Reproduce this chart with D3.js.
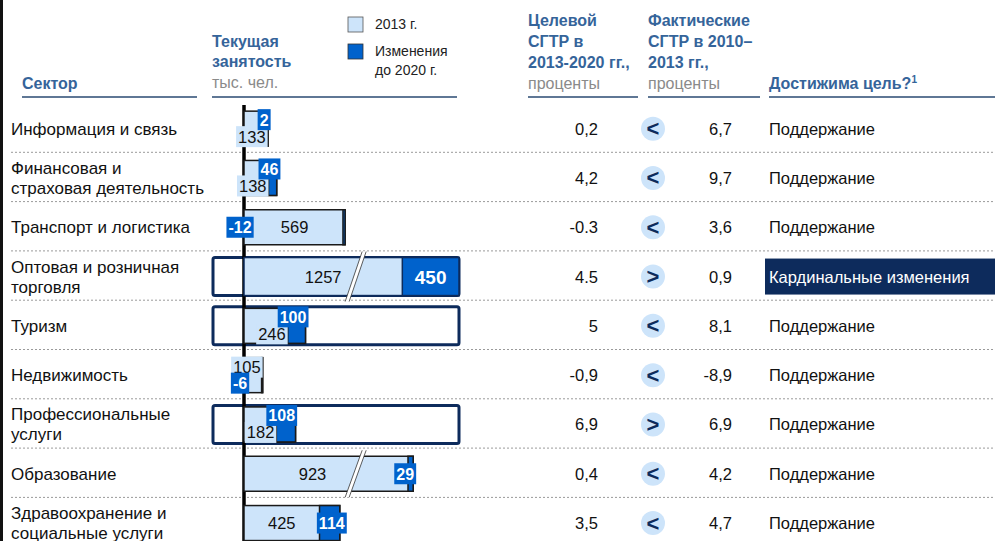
<!DOCTYPE html>
<html>
<head>
<meta charset="utf-8">
<script src="https://cdn.jsdelivr.net/npm/d3@7"></script>
<style>
  body { margin: 0; background: #fff; }
  svg { display: block; font-family: "Liberation Sans", Arial, sans-serif; }
</style>
</head>
<body>
<svg id="chart" width="995" height="541"></svg>
<script>
// sectors (lines of each label)
const sectors = [
  ["Информация и связь"],
  ["Финансовая и", "страховая деятельность"],
  ["Транспорт и логистика"],
  ["Оптовая и розничная", "торговля"],
  ["Туризм"],
  ["Недвижимость"],
  ["Профессиональные", "услуги"],
  ["Образование"],
  ["Здравоохранение и", "социальные услуги"]
];
// employment, thousand people
const employment2013 = [133, 138, 569, 1257, 246, 105, 182, 923, 425];
const change2020 = [2, 46, -12, 450, 100, -6, 108, 29, 114];
// CAGR columns, as printed
const targetCagr = ["0,2", "4,2", "-0.3", "4.5", "5", "-0,9", "6,9", "0,4", "3,5"];
const compareSign = ["<", "<", "<", ">", "<", "<", ">", "<", "<"];
const actualCagr = ["6,7", "9,7", "3,6", "0,9", "8,1", "-8,9", "6,9", "4,2", "4,7"];
const goalText = ["Поддержание", "Поддержание", "Поддержание", "Кардинальные изменения",
  "Поддержание", "Поддержание", "Поддержание", "Поддержание", "Поддержание"];
const highlightRows = [3, 4, 6];
const brokenRows = [3, 7];
const redesignRows = [3];

const navy = "#0d2b5c", headBlue = "#35649a", light = "#cde4fa", dark = "#0062cc", grey = "#8a8a8a";

const svg = d3.select("#chart");
const W = 995;

// left black edge
svg.append("rect").attr("x", 0).attr("y", 0).attr("width", 3).attr("height", 541).attr("fill", "#111");

// ---------- header ----------
const head = svg.append("g").attr("font-size", 16);
function headText(x, y, t, opts = {}) {
  return head.append("text").attr("x", x).attr("y", y)
    .attr("fill", opts.grey ? grey : headBlue)
    .attr("font-weight", opts.grey ? "normal" : "bold")
    .text(t);
}
headText(22, 89, "Сектор");
headText(212, 47, "Текущая");
headText(212, 67, "занятость");
headText(212, 88, "тыс. чел.", {grey: true});
headText(528, 26, "Целевой");
headText(528, 47, "СГТР в");
headText(528, 68, "2013-2020 гг.,");
headText(528, 89, "проценты", {grey: true});
headText(648, 26, "Фактические");
headText(648, 47, "СГТР в 2010–");
headText(648, 68, "2013 гг.,");
headText(648, 89, "проценты", {grey: true});
const goalHead = headText(769, 89, "Достижима цель?");
goalHead.append("tspan").attr("font-size", 10).attr("dy", -6).text("1");

[[22, 197], [212, 457], [528, 638], [648, 760], [769, 995]].forEach(([a, b]) => {
  head.append("line").attr("x1", a).attr("x2", b).attr("y1", 97).attr("y2", 97)
    .attr("stroke", "#2a4a72").attr("stroke-width", 1.5);
});

// legend
const legend = svg.append("g").attr("font-size", 14).attr("fill", "#222");
legend.append("rect").attr("x", 348).attr("y", 17).attr("width", 15).attr("height", 15)
  .attr("fill", light).attr("stroke", "#555").attr("stroke-width", 0.8);
legend.append("text").attr("x", 375).attr("y", 29).text("2013 г.");
legend.append("rect").attr("x", 348).attr("y", 44).attr("width", 15).attr("height", 15)
  .attr("fill", dark).attr("stroke", "#333").attr("stroke-width", 0.8);
legend.append("text").attr("x", 375).attr("y", 56).text("Изменения");
legend.append("text").attr("x", 375).attr("y", 75).text("до 2020 г.");

// ---------- rows ----------
const y = d3.scaleBand().domain(d3.range(sectors.length)).range([103, 103 + 49.3 * sectors.length]);
const x = d3.scaleLinear().domain([0, 1210]).range([244, 459]);
const xMax = x.domain()[1];
const breakAt = 620;
const mid = i => y(i) + y.bandwidth() / 2 + 1;

// separators
svg.append("g").selectAll("line").data(d3.range(1, sectors.length)).join("line")
  .attr("x1", 11).attr("x2", W).attr("y1", i => y(i)).attr("y2", i => y(i))
  .attr("stroke", "#9a9a9a").attr("stroke-width", 1).attr("stroke-dasharray", "2,2");

// sector labels
const sec = svg.append("g").attr("font-size", 17).attr("fill", "#111");
sectors.forEach((lines, i) => {
  const y0 = mid(i) + 6 - (lines.length - 1) * 10;
  lines.forEach((t, k) => sec.append("text").attr("x", 11).attr("y", y0 + k * 20).text(t));
});

// highlight boxes
svg.append("g").selectAll("rect").data(highlightRows).join("rect")
  .attr("x", 213).attr("width", x(xMax) - 213)
  .attr("y", i => mid(i) - 19).attr("height", 38)
  .attr("rx", 2).attr("fill", "none").attr("stroke", navy).attr("stroke-width", 3);

// axis line
svg.append("line").attr("x1", x(0)).attr("x2", x(0)).attr("y1", 105).attr("y2", 541)
  .attr("stroke", "#000").attr("stroke-width", 3.5);

const bars = svg.append("g");
const labels = svg.append("g");

function boxLabel(xc, yc, t, bold, anchor) {
  const txt = labels.append("text").attr("x", xc).attr("y", yc + 6)
    .attr("text-anchor", anchor || "middle")
    .attr("font-size", bold ? 16 : 16.5).attr("font-weight", bold ? "bold" : "normal")
    .attr("fill", bold ? "#fff" : "#111").text(t);
  const bb = txt.node().getBBox();
  labels.insert("rect", () => txt.node())
    .attr("x", bb.x - 2).attr("y", yc - 10.5).attr("width", bb.width + 4).attr("height", 21)
    .attr("fill", bold ? dark : light);
}

employment2013.forEach((base, i) => {
  const ch = change2020[i];
  const total = base + ch;
  const sx = total > xMax ? d3.scaleLinear().domain([0, total]).range(x.range()) : x;
  const hl = highlightRows.includes(i) && total > xMax;
  const cy = mid(i);
  const bh = hl ? 38 : 35;
  const top = cy - bh / 2;
  const x0 = sx(0), x1 = sx(base), x2 = sx(total);
  const bw = x1 - x0, cw = Math.abs(x2 - x1);
  const outline = hl ? navy : "#1a1a1a";

  bars.append("rect").attr("x", x0).attr("y", top).attr("width", Math.max(x1, x2) - x0).attr("height", bh)
    .attr("fill", light).attr("stroke", outline).attr("stroke-width", 1.5);
  bars.append("rect").attr("x", Math.min(x1, x2)).attr("y", top).attr("width", cw).attr("height", bh)
    .attr("fill", dark).attr("stroke", outline).attr("stroke-width", 1.5);

  if (brokenRows.includes(i)) {
    const bx = x(breakAt);
    const pts = [[bx - 9, top + bh + 6], [bx - 5, top + bh + 6], [bx + 12, top - 6], [bx + 8, top - 6]];
    bars.append("polygon").attr("points", pts.map(p => p.join(",")).join(" ")).attr("fill", "#fff");
    bars.append("line").attr("x1", pts[0][0]).attr("y1", pts[0][1]).attr("x2", pts[3][0]).attr("y2", pts[3][1])
      .attr("stroke", "#333").attr("stroke-width", 0.8);
    bars.append("line").attr("x1", pts[1][0]).attr("y1", pts[1][1]).attr("x2", pts[2][0]).attr("y2", pts[2][1])
      .attr("stroke", "#333").attr("stroke-width", 0.8);
  }

  // base label
  if (bw > 60) {
    const xr = brokenRows.includes(i) && total <= xMax ? (x1 + x(breakAt)) / 2 : x1;
    labels.append("text").attr("x", (x0 + xr) / 2).attr("y", cy + 6).attr("text-anchor", "middle")
      .attr("font-size", 16.5).attr("fill", "#111").text(base);
  } else {
    const ly = ch < 0 ? cy - 8 : cy + 8;
    boxLabel(x1 - 2, ly, base, false, "end");
  }

  // change label
  if (ch < 0) {
    boxLabel(x0 - 4, bw > 60 ? cy : cy + 8, ch, true);
  } else if (cw > 40) {
    labels.append("text").attr("x", (x1 + x2) / 2).attr("y", cy + 7).attr("text-anchor", "middle")
      .attr("font-size", 19).attr("font-weight", "bold").attr("fill", "#fff").text(ch);
  } else if (bw <= 60) {
    boxLabel(x1 - 8, cy - 9, ch, true, "start");
  } else {
    boxLabel(x2 - 8, cy, ch, true);
  }
});

// ---------- right-hand columns ----------
const cols = svg.append("g").attr("font-size", 16.5).attr("fill", "#111");
d3.range(sectors.length).forEach(i => {
  const cy = mid(i);
  cols.append("text").attr("x", 598).attr("y", cy + 6).attr("text-anchor", "end").text(targetCagr[i]);
  cols.append("circle").attr("cx", 653).attr("cy", cy).attr("r", 12).attr("fill", light);
  cols.append("text").attr("x", 653).attr("y", cy + 7.5).attr("text-anchor", "middle")
    .attr("font-size", 22).attr("font-weight", "bold").attr("fill", navy).text(compareSign[i]);
  cols.append("text").attr("x", 732).attr("y", cy + 6).attr("text-anchor", "end").text(actualCagr[i]);
  if (redesignRows.includes(i)) {
    cols.append("rect").attr("x", 765).attr("y", cy - 18).attr("width", W - 765).attr("height", 36).attr("fill", navy);
  }
  cols.append("text").attr("x", 769).attr("y", cy + 6)
    .attr("fill", redesignRows.includes(i) ? "#fff" : "#111").text(goalText[i]);
});
</script>
</body>
</html>
